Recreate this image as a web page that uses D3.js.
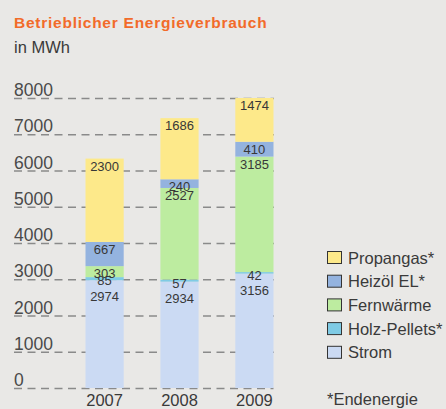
<!DOCTYPE html>
<html>
<head>
<meta charset="utf-8">
<script src="https://cdn.jsdelivr.net/npm/d3@7"></script>
<style>
  body { margin: 0; background: #e9e8e6; }
  svg { display: block; font-family: "Liberation Sans", Arial, sans-serif; }
</style>
</head>
<body>
<div id="wrapper"></div>
<script>
const years = ["2007", "2008", "2009"]
const sources = ["Strom", "Holz-Pellets*", "Fernwärme", "Heizöl EL*", "Propangas*"]
const strom = [2974, 2934, 3156]
const holzPellets = [85, 57, 42]
const fernwaerme = [303, 2527, 3185]
const heizoel = [667, 240, 410]
const propangas = [2300, 1686, 1474]
const yTicks = [0, 1000, 2000, 3000, 4000, 5000, 6000, 7000, 8000]
const colors = ["#cbdaf3", "#7fcbe5", "#bdeca0", "#94b3df", "#fde98a"]

function drawChart() {
  const seriesValues = [strom, holzPellets, fernwaerme, heizoel, propangas]
  const data = years.map((year, i) => {
    const row = { year }
    sources.forEach((s, j) => row[s] = seriesValues[j][i])
    return row
  })

  let dimensions = {
    width: 446,
    height: 409,
    margin: { top: 98, right: 0, bottom: 21, left: 14 },
  }
  dimensions.boundedHeight = dimensions.height - dimensions.margin.top - dimensions.margin.bottom

  const wrapper = d3.select("#wrapper")
    .append("svg")
      .attr("width", dimensions.width)
      .attr("height", dimensions.height)

  wrapper.append("rect")
    .attr("width", dimensions.width)
    .attr("height", dimensions.height)
    .attr("fill", "#e9e8e6")

  // title
  wrapper.append("text")
    .attr("x", 14).attr("y", 28)
    .attr("fill", "#f26b2a")
    .style("font-weight", "bold")
    .style("font-size", "15.5px")
    .style("letter-spacing", "0.75px")
    .text("Betrieblicher Energieverbrauch")
  wrapper.append("text")
    .attr("x", 14).attr("y", 53)
    .attr("fill", "#3a3a3a")
    .style("font-size", "16.5px")
    .text("in MWh")

  const bounds = wrapper.append("g")
    .attr("transform", `translate(${dimensions.margin.left},${dimensions.margin.top})`)

  const yScale = d3.scaleLinear()
    .domain([0, 8000])
    .range([dimensions.boundedHeight, 0])
    .clamp(true)

  const xScale = d3.scaleBand()
    .domain(years)
    .range([53, 278])
    .paddingInner(0.49)
    .paddingOuter(0.247)

  // gridlines
  const grid = bounds.append("g")
  grid.selectAll("line")
    .data(yTicks)
    .join("line")
      .attr("x1", 0)
      .attr("x2", d => d == 0 ? xScale("2009") + xScale.bandwidth() : 260)
      .attr("y1", d => yScale(d) + 0.5)
      .attr("y2", d => yScale(d) + 0.5)
      .attr("stroke", "#8a8a8a")
      .attr("stroke-width", 1.6)
      .attr("stroke-dasharray", "8,5.5")

  grid.selectAll("text")
    .data(yTicks)
    .join("text")
      .attr("x", 0)
      .attr("y", d => yScale(d) - 2)
      .attr("fill", "#4a4a4a")
      .style("font-size", "17.5px")
      .text(d => d)

  const stack = d3.stack().keys(sources)
  const layers = stack(data)

  const layerGroups = bounds.append("g").selectAll("g")
    .data(layers)
    .join("g")
      .attr("fill", (d, i) => colors[i])

  layerGroups.selectAll("rect")
    .data(d => d)
    .join("rect")
      .attr("x", d => xScale(d.data.year))
      .attr("width", xScale.bandwidth())
      .attr("y", d => yScale(d[1]))
      .attr("height", d => yScale(d[0]) - yScale(d[1]))

  // value labels
  const labels = []
  layers.forEach((layer, i) => {
    layer.forEach((d, k) => {
      const value = d[1] - d[0]
      const top = yScale(d[1])
      let y = top + 12
      if (value < 150) y = top + 8
      else if (i < layers.length - 1 && (layers[i + 1][k][1] - layers[i + 1][k][0]) < 150) y = top + 21
      labels.push({ year: d.data.year, value, y })
    })
  })

  bounds.append("g").selectAll("text")
    .data(labels)
    .join("text")
      .attr("x", d => xScale(d.year) + xScale.bandwidth() / 2)
      .attr("y", d => d.y)
      .attr("text-anchor", "middle")
      .attr("fill", "#383838")
      .style("font-size", "13px")
      .text(d => d.value)

  // x axis labels
  bounds.append("g").selectAll("text")
    .data(years)
    .join("text")
      .attr("x", d => xScale(d) + xScale.bandwidth() / 2)
      .attr("y", dimensions.boundedHeight + 18)
      .attr("text-anchor", "middle")
      .attr("fill", "#3a3a3a")
      .style("font-size", "16.5px")
      .text(d => d)

  // legend
  const legendItems = sources.slice().reverse()
  const legend = wrapper.append("g")
    .attr("transform", "translate(327,251)")
  const item = legend.selectAll("g")
    .data(legendItems)
    .join("g")
      .attr("transform", (d, i) => `translate(0,${i * 23.7})`)
  item.append("rect")
    .attr("x", 0.5).attr("y", 0.5)
    .attr("width", 14).attr("height", 12)
    .attr("fill", d => colors[sources.indexOf(d)])
    .attr("stroke", "#333")
    .attr("stroke-width", 1)
  item.append("text")
    .attr("x", 21)
    .attr("y", 12.5)
    .attr("fill", "#3a3a3a")
    .style("font-size", "16.5px")
    .text(d => d)

  wrapper.append("text")
    .attr("x", 327).attr("y", 405)
    .attr("fill", "#3a3a3a")
    .style("font-size", "16.5px")
    .text("*Endenergie")
}

drawChart()
</script>
</body>
</html>
